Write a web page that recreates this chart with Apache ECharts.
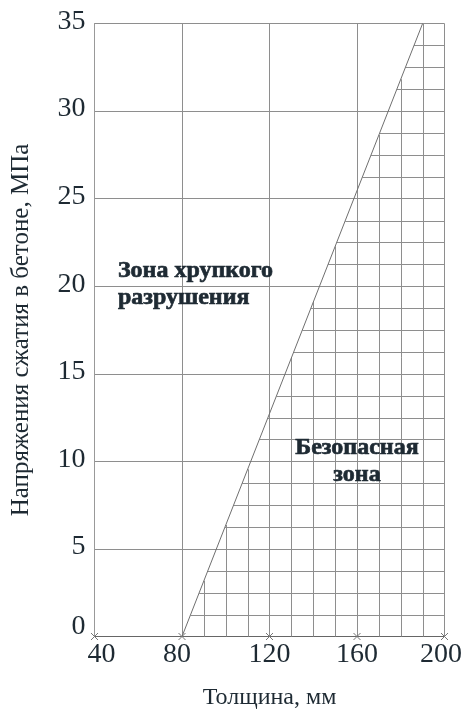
<!DOCTYPE html>
<html>
<head>
<meta charset="utf-8">
<script src="https://cdn.jsdelivr.net/npm/echarts@6/dist/echarts.min.js"></script>
<style>
html,body{margin:0;padding:0;background:#fff;}
#c{width:476px;height:717px;}
</style>
</head>
<body>
<div id="c"></div>
<script>
// ---- data ----
var xTicks = [40, 80, 120, 160, 200];
var yTicks = [0, 5, 10, 15, 20, 25, 30, 35];
// boundary line between zones: thickness (mm) vs stress (MPa)
var boundaryX = [80, 190];
var boundaryY = [0, 35];
// fine grid in the safe zone (major lines are drawn by the axes)
var fineX = [90, 100, 110, 130, 140, 150, 170, 180, 190];
var fineY = [1.25, 2.5, 3.75, 6.25, 7.5, 8.75, 11.25, 12.5, 13.75, 16.25, 17.5, 18.75,
             21.25, 22.5, 23.75, 26.25, 27.5, 28.75, 31.25, 32.5, 33.75];
var xName = 'Толщина, мм';
var yName = 'Напряжения сжатия в бетоне, МПа';
var zoneBrittle = {text: 'Зона хрупкого\nразрушения', x: 50.7, y: 20.1};
var zoneSafe = {text: 'Безопасная\nзона', x: 160, y: 10};

var xMin = 40, xMax = 200, yMin = 0, yMax = 35;

function xOnBoundary(y) {
  return boundaryX[0] + (y - boundaryY[0]) * (boundaryX[1] - boundaryX[0]) / (boundaryY[1] - boundaryY[0]);
}
function yOnBoundary(x) {
  return boundaryY[0] + (x - boundaryX[0]) * (boundaryY[1] - boundaryY[0]) / (boundaryX[1] - boundaryX[0]);
}

var fineSegs = [];
fineX.forEach(function (x) { fineSegs.push([x, yMin, x, Math.min(yOnBoundary(x), yMax)]); });
fineY.forEach(function (y) { fineSegs.push([xOnBoundary(y), y, xMax, y]); });

var chart = echarts.init(document.getElementById('c'), null, {renderer: 'canvas'});
var serif = 'Liberation Serif, Times New Roman, serif';
var txt = '#1e2a33';
var gridColor = '#8e8e8e';

var xLabelRich = {
  n: {fontFamily: serif, fontSize: 28, color: txt},
  r: {fontFamily: serif, fontSize: 28, color: txt, padding: [0, 0, 0, 14]},
  l: {fontFamily: serif, fontSize: 28, color: txt, padding: [0, 10, 0, 0]},
  l2: {fontFamily: serif, fontSize: 28, color: txt, padding: [0, 7, 0, 0]}
};

var option = {
  animation: false,
  backgroundColor: '#fff',
  grid: {left: 94.5, right: 31.5, top: 23.5, bottom: 80.5, containLabel: false},
  xAxis: {
    type: 'value', min: xMin, max: xMax, interval: 40,
    name: xName, nameLocation: 'middle', nameGap: 49,
    nameTextStyle: {fontFamily: serif, fontSize: 24, color: txt},
    axisLine: {show: true, onZero: false, lineStyle: {color: '#666', width: 1}},
    axisTick: {show: false},
    axisLabel: {
      margin: 4,
      formatter: function (v) {
        if (v === 40) return '{r|' + v + '}';
        if (v === 80) return '{l|' + v + '}';
        if (v === 200) return '{l2|' + v + '}';
        return '{n|' + v + '}';
      },
      rich: xLabelRich
    },
    splitLine: {show: true, lineStyle: {color: gridColor, width: 1}}
  },
  yAxis: {
    type: 'value', min: yMin, max: yMax, interval: 5,
    name: yName, nameLocation: 'middle', nameGap: 61,
    nameTextStyle: {fontFamily: serif, fontSize: 25, color: txt},
    axisLine: {show: true, lineStyle: {color: '#999', width: 1}},
    axisTick: {show: false},
    axisLabel: {
      margin: 9,
      formatter: function (v) { return v === 0 ? '{z|0}' : '{a|' + v + '}'; },
      rich: {
        a: {fontFamily: serif, fontSize: 28, color: txt, padding: [0, 0, 4, 0]},
        z: {fontFamily: serif, fontSize: 28, color: txt, padding: [0, 0, 20, 0]}
      }
    },
    splitLine: {show: true, lineStyle: {color: gridColor, width: 1}}
  },
  series: [
    {
      type: 'custom',
      coordinateSystem: 'cartesian2d',
      clip: false,
      silent: true,
      encode: {x: [0, 2], y: [1, 3]},
      data: fineSegs,
      renderItem: function (params, api) {
        var p1 = api.coord([api.value(0), api.value(1)]);
        var p2 = api.coord([api.value(2), api.value(3)]);
        var x1 = p1[0], x2 = p2[0], y1 = p1[1], y2 = p2[1];
        if (Math.abs(x1 - x2) < 0.01) { x1 = x2 = Math.round(x1) + 0.5; }
        if (Math.abs(y1 - y2) < 0.01) { y1 = y2 = Math.round(y1) + 0.5; }
        return {type: 'line', shape: {x1: x1, y1: y1, x2: x2, y2: y2},
                style: {stroke: gridColor, lineWidth: 1}};
      },
      z: 2
    },
    {
      type: 'line',
      data: boundaryX.map(function (x, i) { return [x, boundaryY[i]]; }),
      symbol: 'none',
      lineStyle: {color: '#6f6f6f', width: 1},
      silent: true,
      z: 3
    },
    {
      type: 'scatter',
      data: xTicks.map(function (x) { return [x, 0]; }),
      symbol: 'path://M0,0L10,10M10,0L0,10',
      symbolSize: 7,
      itemStyle: {color: 'none', borderColor: '#777', borderWidth: 1, opacity: 1},
      clip: false,
      silent: true,
      z: 4
    },
    {
      type: 'scatter',
      data: [[zoneBrittle.x, zoneBrittle.y]],
      symbolSize: 0,
      silent: true,
      itemStyle: {opacity: 1},
      label: {
        show: true, position: 'right', distance: 0,
        formatter: zoneBrittle.text,
        fontFamily: serif, fontWeight: 'bold', fontSize: 24, lineHeight: 27, color: txt, align: 'left',
        textBorderColor: txt, textBorderWidth: 0.7
      },
      z: 5
    },
    {
      type: 'scatter',
      data: [[zoneSafe.x, zoneSafe.y]],
      symbolSize: 0,
      silent: true,
      itemStyle: {opacity: 1},
      label: {
        show: true, position: 'inside',
        formatter: zoneSafe.text,
        fontFamily: serif, fontWeight: 'bold', fontSize: 24, lineHeight: 27, color: txt, align: 'center',
        textBorderColor: txt, textBorderWidth: 0.7
      },
      z: 5
    }
  ]
};
chart.setOption(option);
</script>
</body>
</html>
